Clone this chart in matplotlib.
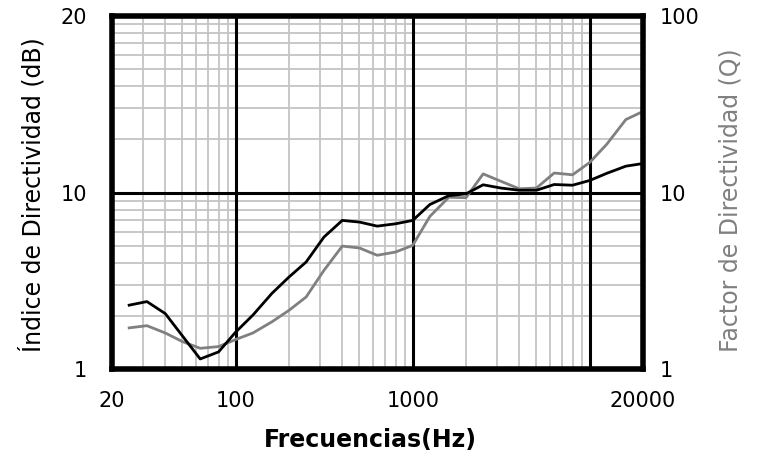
import matplotlib
matplotlib.use("Agg")
import matplotlib.pyplot as plt
import numpy as np

freqs = [25, 31.5, 40, 50, 63, 80, 100, 125, 160, 200, 250, 315, 400, 500, 630, 800,
         1000, 1250, 1600, 2000, 2500, 3150, 4000, 5000, 6300, 8000, 10000, 12500, 16000, 20000]
black_vals = [2.30, 2.41, 2.06, 1.54, 1.14, 1.25, 1.62, 2.02, 2.68, 3.32, 4.04, 5.59, 6.95, 6.80,
              6.45, 6.65, 6.95, 8.55, 9.6, 9.83, 11.06, 10.6, 10.3, 10.3, 11.1, 11.0, 11.7, 12.85, 14.1, 14.6]
gray_vals = [1.71, 1.76, 1.60, 1.43, 1.31, 1.34, 1.47, 1.60, 1.85, 2.15, 2.56, 3.62, 4.97, 4.85,
             4.41, 4.60, 5.02, 7.32, 9.4, 9.35, 12.75, 11.58, 10.5, 10.6, 12.9, 12.6, 14.8, 18.8, 25.9, 28.8]

xticks = [20, 100, 1000, 20000]
xtick_labels = ["20", "100", "1000", "20000"]
yticks = [1, 10, 100]
left_labels = ["1", "10", "20"]
right_labels = ["1", "10", "100"]
major_x = [100, 1000, 10000]
major_y = [10]

plt.rcParams['font.family'] = ['DejaVu Sans']

fig = plt.figure(figsize=(7.63, 4.63), dpi=100)
ax = fig.add_axes([0.1468, 0.203, 0.8427 - 0.1468, 0.9654 - 0.203])
ax.set_xscale('log')
ax.set_yscale('log')
ax.set_xlim(20, 20000)
ax.set_ylim(1, 100)

# minor grid
minor_x = [m * 10**d for d in range(1, 4) for m in range(2, 10) if 20 < m * 10**d < 10000]
minor_y = [m * 10**d for d in range(0, 2) for m in range(2, 10)]
for v in minor_x:
    ax.axvline(v, color='#c4c4c4', lw=1.3, zorder=1)
for v in minor_y:
    ax.axhline(v, color='#c4c4c4', lw=1.3, zorder=1)
for v in major_x:
    ax.axvline(v, color='black', lw=2.2, zorder=2)
for v in major_y:
    ax.axhline(v, color='black', lw=2.2, zorder=2)

ax.plot(freqs, gray_vals, color='#808080', lw=2.0, zorder=3)
ax.plot(freqs, black_vals, color='black', lw=2.0, zorder=4)

for s in ax.spines.values():
    s.set_linewidth(4)
    s.set_color('black')
    s.set_zorder(5)

ax.minorticks_off()
ax.set_xticks(xticks)
ax.set_xticklabels(xtick_labels)
ax.set_yticks(yticks)
ax.set_yticklabels(left_labels)
ax.tick_params(axis='both', length=0, labelsize=15, colors='black')
ax.tick_params(axis='x', pad=16)
ax.tick_params(axis='y', pad=18)

ax2 = ax.twinx()
ax2.set_yscale('log')
ax2.set_ylim(1, 100)
ax2.minorticks_off()
ax2.set_yticks(yticks)
ax2.set_yticklabels(right_labels)
ax2.tick_params(axis='y', length=0, labelsize=15, pad=12)
for s in ax2.spines.values():
    s.set_visible(False)

fig.text(0.485, 0.05, "Frecuencias(Hz)", ha='center', va='center', fontsize=17,
         fontweight='bold')
fig.text(0.042, 0.579, "Índice de Directividad (dB)", ha='center', va='center', rotation=90,
         fontsize=17, color='black')
fig.text(0.958, 0.568, "Factor de Directividad (Q)", ha='center', va='center', rotation=90,
         fontsize=17, color='#808080')

fig.savefig("out.png", dpi=100)
